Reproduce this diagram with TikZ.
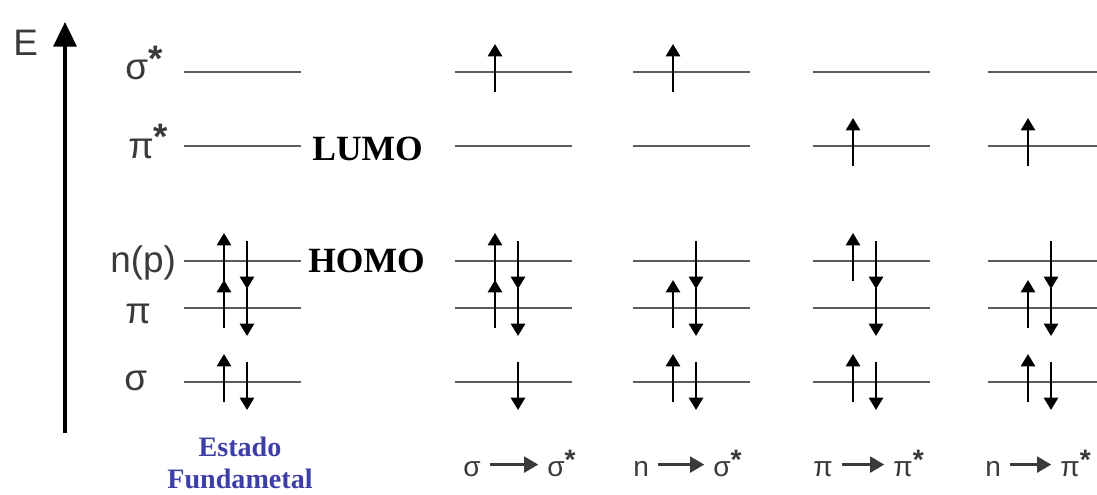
\documentclass[tikz,border=0pt]{standalone}
\usepackage{fontspec}
\setmainfont{Liberation Serif}
\setsansfont{Liberation Sans}
\usetikzlibrary{arrows.meta}
\definecolor{lvlgray}{RGB}{92,92,92}
\definecolor{labgray}{RGB}{58,58,58}
\definecolor{gsblue}{RGB}{62,62,168}
\newcommand{\str}{\raisebox{0.22em}{\bfseries *}}
\tikzset{
  lvl/.style={lvlgray, line width=1.7pt},
  spin/.style={-{Triangle[width=8pt,length=7pt]}, line width=1.4pt},
  olab/.style={font=\sffamily\fontsize{21}{21}\selectfont, text=labgray, inner sep=0pt, anchor=base west},
  tlab/.style={font=\sffamily\fontsize{16}{16}\selectfont, text=labgray, inner sep=0pt,
      anchor=base west, text height=13pt, text depth=0pt},
  tarr/.style={-{Triangle[width=9pt,length=8pt]}, line width=1.4pt, labgray, shorten <=5pt, shorten >=5pt},
  fmo/.style={font=\bfseries\fontsize{20.2}{20.2}\selectfont, inner sep=0pt, anchor=base west},
  eax/.style={-{Triangle[width=13pt,length=14pt]}, line width=2.2pt},
}

\begin{document}
\begin{tikzpicture}[x=0.02cm, y=0.02cm]
\useasboundingbox (0,0) rectangle (1097,494);
%---- energy axis
\coordinate (ebot) at (65,61);
\coordinate (etop) at (65,472);
\draw[eax] (ebot) -- (etop);
\node[olab] (elab) at (13,438) {E};
%---- orbital names
\node[olab] (lsigs) at (125,414) {σ\str};
\node[olab] (lpis)  at (128,336) {π\str};
\node[olab] (lnp)   at (110,222) {n(p)};
\node[olab] (lpi)   at (125,171) {π};
\node[olab] (lsig)  at (124,104) {σ};
%---- the levels
\foreach \cx in {184,455,633,813,988}{
  \foreach \ly in {422,348,233,186,112}
    \draw[lvl] (\cx,\ly) -- ++(117,0);}
\node[fmo] (lumo) at (312,334) {LUMO};
\node[fmo] (homo) at (308,222) {HOMO};
%---- electrons
\foreach \cx/\ly in {184/233,184/186,184/112,455/422,455/233,455/186,633/422,633/186,633/112,
                     813/348,813/233,813/112,988/348,988/186,988/112}
  \draw[spin] (\cx+40,\ly-20) -- (\cx+40,\ly+28);
\foreach \cx/\ly in {184/233,184/186,184/112,455/233,455/186,455/112,633/233,633/186,633/112,
                     813/233,813/186,813/112,988/233,988/186,988/112}
  \draw[spin] (\cx+63,\ly+20) -- (\cx+63,\ly-28);
%---- ground state and transitions
\node[font=\bfseries\fontsize{16}{18}\selectfont, text=gsblue, align=center, inner sep=0pt, anchor=north]
  (gs) at (240,57) {Estado\\Fundametal};
\node[tlab] (ta1) at (463,18) {σ};  \node[tlab] (tb1) at (547,18) {σ\str};
\node[tlab] (ta2) at (633,18) {n};  \node[tlab] (tb2) at (713,18) {σ\str};
\node[tlab] (ta3) at (813,18) {π};  \node[tlab] (tb3) at (893,18) {π\str};
\node[tlab] (ta4) at (985,18) {n};  \node[tlab] (tb4) at (1060,18) {π\str};
\foreach \i in {1,...,4}
  \draw[tarr] (ta\i) -- (tb\i);
\end{tikzpicture}
\end{document}
